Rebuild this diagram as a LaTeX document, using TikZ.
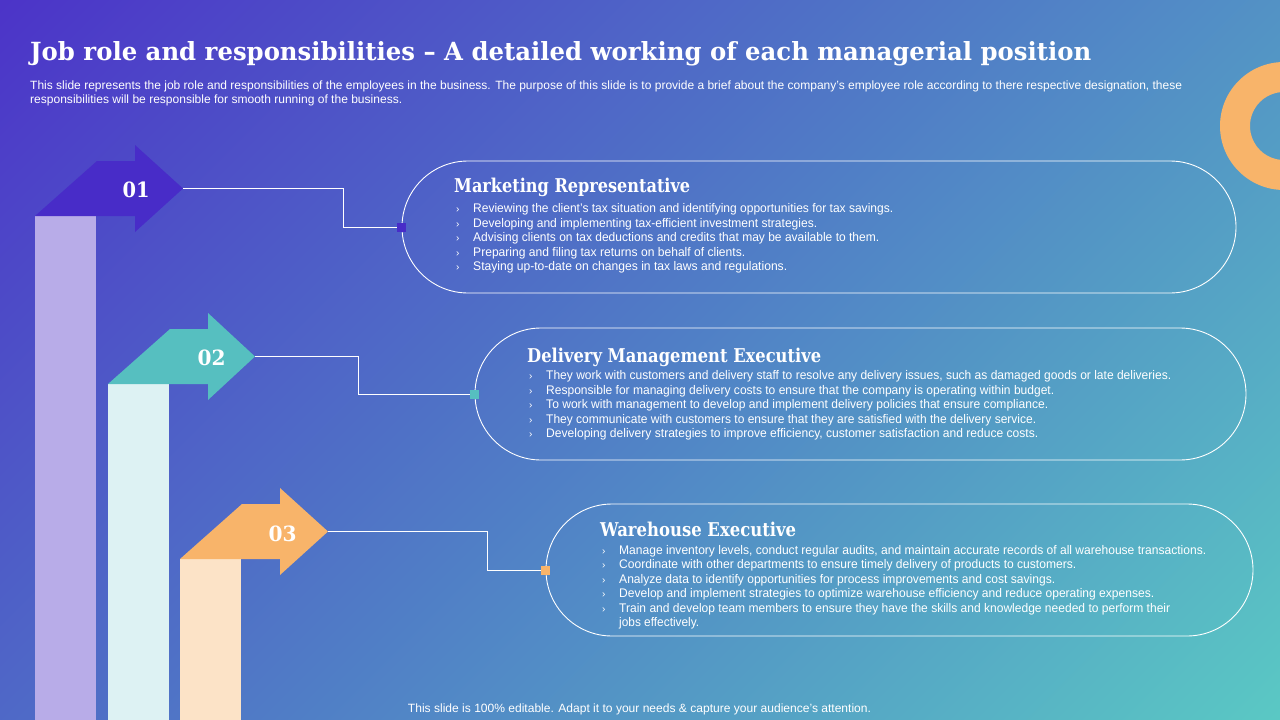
\documentclass[tikz,border=0pt]{standalone}
\usepackage{fontspec}
\setmainfont{Liberation Sans}
\newfontfamily\serifb{DejaVu Serif}
\usetikzlibrary{shapes.misc}
\definecolor{bgA}{RGB}{76,52,200}
\definecolor{bgM}{RGB}{80,125,198}
\definecolor{bgB}{RGB}{90,200,196}
\definecolor{cPur}{RGB}{72,44,200}
\definecolor{cTeal}{RGB}{86,191,192}
\definecolor{cOra}{RGB}{248,180,106}
\definecolor{bPur}{RGB}{184,172,232}
\definecolor{bTeal}{RGB}{221,242,243}
\definecolor{bOra}{RGB}{252,227,199}
\newcommand\fitw[2]{\resizebox{#1pt}{\height}{#2}}
\newcommand\bitem[5]{\node[chev] (#1m) at (#2-17,#3) {›};\node[body] (#1) at (#2,#3) {\fitw{#4}{#5}};}
\begin{document}
\begin{tikzpicture}[x=1pt,y=-1pt,
  txt/.style={inner sep=0pt, text=white, anchor=base west},
  body/.style={txt, font=\fontsize{12.5}{14}\selectfont},
  chev/.style={txt, font=\fontsize{10}{12}\selectfont},
  head/.style={txt, font=\serifb\bfseries\fontsize{19}{22}\selectfont},
  num/.style={inner sep=0pt, text=white, font=\serifb\bfseries\fontsize{21}{24}\selectfont},
  capsule/.style={draw=white, line width=0.9pt, rounded rectangle, inner sep=0pt, minimum height=132pt},
  link/.style={draw=white, line width=1pt},
  dot/.style={inner sep=0pt, minimum size=9pt},
]
\useasboundingbox (0,0) rectangle (1280,720);
\clip (0,0) rectangle (1280,720);
\shade[top color=bgA, bottom color=bgB, middle color=bgM, shading angle=45] (-67,-347) rectangle (1347,1067);
% ring
\fill[cOra, even odd rule] (1284,126) circle[radius=64] (1284,126) circle[radius=34];
% title and subtitle
\node[txt, font=\serifb\bfseries\fontsize{25}{28}\selectfont] (title) at (30,60) {\fitw{1061}{Job role and responsibilities – A detailed working of each managerial position}};
\node[txt, font=\fontsize{12}{14}\selectfont] (sub1) at (30,89) {\fitw{1152}{This slide represents the job role and responsibilities of the employees in the business. The purpose of this slide is to provide a brief about the company’s employee role according to there respective designation, these}};
\node[txt, font=\fontsize{12}{14}\selectfont] (sub2) at (30,103) {\fitw{372}{responsibilities will be responsible for smooth running of the business.}};
% bars
\fill[bPur] (35,216) rectangle (96,720);
\fill[bTeal] (108,384) rectangle (169,720);
\fill[bOra] (180,559) rectangle (241,720);
% arrows
\fill[cPur] (35,216) -- (97,161) -- (135,161) -- (135,145) -- (183,188.5) -- (135,232) -- (135,216) -- cycle;
\fill[cTeal] (108,384) -- (170,329) -- (208,329) -- (208,313) -- (255,356.5) -- (208,400) -- (208,384) -- cycle;
\fill[cOra] (180,559) -- (242,504) -- (280,504) -- (280,488) -- (328,531.5) -- (280,575) -- (280,559) -- cycle;
\coordinate (t1) at (183,188.5);
\coordinate (t2) at (255,356.5);
\coordinate (t3) at (328,531.5);
\node[num] (n1) at (136,189.5) {\fitw{27}{01}};
\node[num] (n2) at (211.5,358) {\fitw{28}{02}};
\node[num] (n3) at (282.5,534) {\fitw{28}{03}};
% capsules
\node[capsule, minimum width=834pt] (cap1) at (819,227) {};
\node[capsule, minimum width=771pt] (cap2) at (860.5,394) {};
\node[capsule, minimum width=707pt] (cap3) at (899.5,570) {};
\node[dot, fill=cPur] (sq1) at (cap1.west) {};
\node[dot, fill=cTeal] (sq2) at (cap2.west) {};
\node[dot, fill=cOra] (sq3) at (cap3.west) {};
% connectors
\coordinate (k1) at (343,188.5);
\coordinate (k2) at (358,356.5);
\coordinate (k3) at (487,531.5);
\draw[link] (t1) -- (k1) |- (sq1);
\draw[link] (t2) -- (k2) |- (sq2);
\draw[link] (t3) -- (k3) |- (sq3);
% capsule 1
\node[head] (h1) at (454,192) {\fitw{236}{Marketing Representative}};
\bitem{a1}{473}{212.5}{420}{Reviewing the client’s tax situation and identifying opportunities for tax savings.}
\bitem{a2}{473}{227}{344}{Developing and implementing tax-efficient investment strategies.}
\bitem{a3}{473}{241.5}{406}{Advising clients on tax deductions and credits that may be available to them.}
\bitem{a4}{473}{256}{272}{Preparing and filing tax returns on behalf of clients.}
\bitem{a5}{473}{270.5}{314}{Staying up-to-date on changes in tax laws and regulations.}
% capsule 2
\node[head] (h2) at (527,362) {\fitw{294}{Delivery Management Executive}};
\bitem{b1}{546}{379.5}{625}{They work with customers and delivery staff to resolve any delivery issues, such as damaged goods or late deliveries.}
\bitem{b2}{546}{394}{508}{Responsible for managing delivery costs to ensure that the company is operating within budget.}
\bitem{b3}{546}{408.5}{502}{To work with management to develop and implement delivery policies that ensure compliance.}
\bitem{b4}{546}{423}{490}{They communicate with customers to ensure that they are satisfied with the delivery service.}
\bitem{b5}{546}{437.5}{492}{Developing delivery strategies to improve efficiency, customer satisfaction and reduce costs.}
% capsule 3
\node[head] (h3) at (600,536) {\fitw{196}{Warehouse Executive}};
\bitem{c1}{619}{554}{587}{Manage inventory levels, conduct regular audits, and maintain accurate records of all warehouse transactions.}
\bitem{c2}{619}{568.5}{457}{Coordinate with other departments to ensure timely delivery of products to customers.}
\bitem{c3}{619}{583}{436}{Analyze data to identify opportunities for process improvements and cost savings.}
\bitem{c4}{619}{597.5}{535}{Develop and implement strategies to optimize warehouse efficiency and reduce operating expenses.}
\bitem{c5}{619}{612}{551}{Train and develop team members to ensure they have the skills and knowledge needed to perform their}
\node[body] (c6) at (619,626.5) {\fitw{80}{jobs effectively.}};
% footer
\node[txt, anchor=base, font=\fontsize{12}{14}\selectfont] (foot) at (639.5,712) {\fitw{463}{This slide is 100\% editable. Adapt it to your needs \& capture your audience’s attention.}};
\end{tikzpicture}
\end{document}
